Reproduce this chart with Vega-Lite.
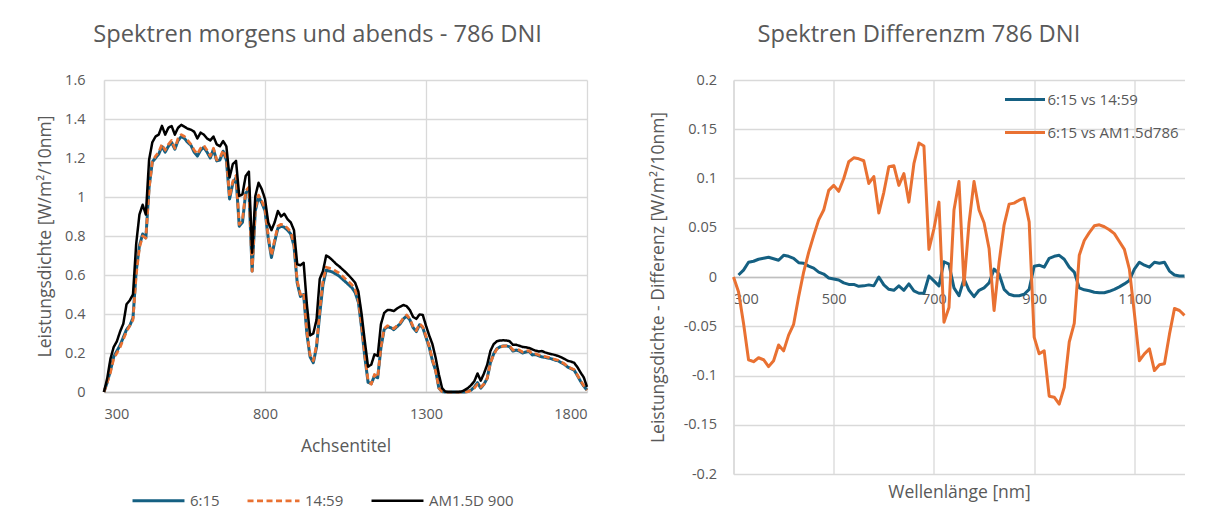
{
  "$schema": "https://vega.github.io/schema/vega-lite/v6.json",
  "padding": {"left": 36, "top": 23, "right": 0, "bottom": 0},
  "spacing": 60.5,
  "resolve": {"scale": {"color": "independent", "strokeDash": "independent", "strokeWidth": "independent"}, "legend": {"color": "independent", "strokeDash": "independent", "strokeWidth": "independent"}},
  "config": {
    "font": "Open Sans",
    "view": {"stroke": null},
    "axis": {"gridColor": "#d9d9d9", "gridWidth": 1.3, "domainColor": "#d9d9d9", "domainWidth": 1.3, "ticks": false, "labelColor": "#595959", "titleColor": "#595959", "labelFontSize": 14.5, "titleFontSize": 17.5, "titleFontWeight": "normal", "labelFont": "Open Sans", "titleFont": "Open Sans"},
    "title": {"fontSize": 23.7, "fontWeight": "normal", "color": "#595959", "frame": "bounds", "offset": 25, "font": "Open Sans"},
    "legend": {"labelColor": "#595959", "labelFontSize": 15, "labelFont": "Open Sans", "padding": 0}
  },
  "hconcat": [
    {
      "width": 483,
      "height": 312,
      "title": {"text": "Spektren morgens und abends - 786 DNI", "dx": 5},
      "data": {"values": [
        {"x":300,"a":0,"b":0,"c":0},
        {"x":310,"a":0.05,"b":0.05,"c":0.07},
        {"x":320,"a":0.11,"b":0.1,"c":0.17},
        {"x":330,"a":0.18,"b":0.17,"c":0.23},
        {"x":340,"a":0.21,"b":0.2,"c":0.26},
        {"x":350,"a":0.24,"b":0.23,"c":0.31},
        {"x":360,"a":0.28,"b":0.27,"c":0.35},
        {"x":370,"a":0.32,"b":0.31,"c":0.45},
        {"x":380,"a":0.34,"b":0.34,"c":0.47},
        {"x":390,"a":0.38,"b":0.37,"c":0.5},
        {"x":400,"a":0.62,"b":0.6,"c":0.76},
        {"x":410,"a":0.75,"b":0.74,"c":0.91},
        {"x":420,"a":0.81,"b":0.8,"c":0.96},
        {"x":430,"a":0.79,"b":0.79,"c":0.91},
        {"x":440,"a":1.05,"b":1.04,"c":1.19},
        {"x":450,"a":1.18,"b":1.18,"c":1.28},
        {"x":460,"a":1.2,"b":1.21,"c":1.31},
        {"x":470,"a":1.22,"b":1.23,"c":1.32},
        {"x":480,"a":1.26,"b":1.27,"c":1.365},
        {"x":490,"a":1.23,"b":1.24,"c":1.32},
        {"x":500,"a":1.26,"b":1.27,"c":1.355},
        {"x":510,"a":1.28,"b":1.29,"c":1.364},
        {"x":520,"a":1.245,"b":1.25,"c":1.32},
        {"x":530,"a":1.29,"b":1.3,"c":1.355},
        {"x":540,"a":1.31,"b":1.32,"c":1.37},
        {"x":550,"a":1.3,"b":1.31,"c":1.36},
        {"x":560,"a":1.28,"b":1.29,"c":1.35},
        {"x":570,"a":1.265,"b":1.27,"c":1.345},
        {"x":580,"a":1.23,"b":1.24,"c":1.335},
        {"x":590,"a":1.21,"b":1.22,"c":1.3},
        {"x":600,"a":1.24,"b":1.25,"c":1.33},
        {"x":610,"a":1.255,"b":1.265,"c":1.32},
        {"x":620,"a":1.23,"b":1.24,"c":1.3},
        {"x":630,"a":1.2,"b":1.21,"c":1.29},
        {"x":640,"a":1.245,"b":1.25,"c":1.31},
        {"x":650,"a":1.185,"b":1.19,"c":1.27},
        {"x":660,"a":1.19,"b":1.2,"c":1.26},
        {"x":670,"a":1.235,"b":1.24,"c":1.287},
        {"x":680,"a":1.19,"b":1.2,"c":1.26},
        {"x":690,"a":0.99,"b":1.0,"c":1.1},
        {"x":700,"a":1.07,"b":1.08,"c":1.168},
        {"x":710,"a":1.1,"b":1.11,"c":1.185},
        {"x":720,"a":0.85,"b":0.86,"c":1.005},
        {"x":730,"a":0.87,"b":0.88,"c":1.014},
        {"x":740,"a":1.02,"b":1.03,"c":1.108},
        {"x":750,"a":1.04,"b":1.05,"c":1.13},
        {"x":760,"a":0.62,"b":0.62,"c":0.714},
        {"x":770,"a":0.93,"b":0.94,"c":1.005},
        {"x":780,"a":1.0,"b":1.01,"c":1.073},
        {"x":790,"a":0.97,"b":0.98,"c":1.04},
        {"x":800,"a":0.93,"b":0.94,"c":0.99},
        {"x":810,"a":0.79,"b":0.8,"c":0.87},
        {"x":820,"a":0.69,"b":0.7,"c":0.83},
        {"x":830,"a":0.77,"b":0.78,"c":0.87},
        {"x":840,"a":0.84,"b":0.85,"c":0.928},
        {"x":850,"a":0.85,"b":0.86,"c":0.9},
        {"x":860,"a":0.845,"b":0.855,"c":0.914},
        {"x":870,"a":0.83,"b":0.84,"c":0.886},
        {"x":880,"a":0.81,"b":0.82,"c":0.87},
        {"x":890,"a":0.75,"b":0.76,"c":0.83},
        {"x":900,"a":0.56,"b":0.57,"c":0.655},
        {"x":910,"a":0.49,"b":0.5,"c":0.65},
        {"x":920,"a":0.5,"b":0.51,"c":0.663},
        {"x":930,"a":0.3,"b":0.31,"c":0.45},
        {"x":940,"a":0.18,"b":0.19,"c":0.29},
        {"x":950,"a":0.15,"b":0.16,"c":0.3},
        {"x":960,"a":0.23,"b":0.24,"c":0.37},
        {"x":970,"a":0.4,"b":0.42,"c":0.58},
        {"x":980,"a":0.55,"b":0.57,"c":0.62},
        {"x":990,"a":0.625,"b":0.64,"c":0.7},
        {"x":1000,"a":0.62,"b":0.635,"c":0.69},
        {"x":1010,"a":0.615,"b":0.63,"c":0.675},
        {"x":1020,"a":0.605,"b":0.62,"c":0.658},
        {"x":1030,"a":0.595,"b":0.61,"c":0.645},
        {"x":1040,"a":0.58,"b":0.595,"c":0.63},
        {"x":1050,"a":0.565,"b":0.58,"c":0.615},
        {"x":1060,"a":0.55,"b":0.565,"c":0.598},
        {"x":1070,"a":0.535,"b":0.55,"c":0.58},
        {"x":1080,"a":0.51,"b":0.525,"c":0.56},
        {"x":1090,"a":0.46,"b":0.47,"c":0.515},
        {"x":1100,"a":0.33,"b":0.34,"c":0.4},
        {"x":1110,"a":0.18,"b":0.19,"c":0.26},
        {"x":1120,"a":0.05,"b":0.06,"c":0.13},
        {"x":1130,"a":0.043,"b":0.04,"c":0.14},
        {"x":1140,"a":0.082,"b":0.09,"c":0.193},
        {"x":1150,"a":0.073,"b":0.075,"c":0.185},
        {"x":1160,"a":0.227,"b":0.23,"c":0.347},
        {"x":1170,"a":0.32,"b":0.325,"c":0.405},
        {"x":1180,"a":0.335,"b":0.34,"c":0.42},
        {"x":1190,"a":0.33,"b":0.335,"c":0.42},
        {"x":1200,"a":0.32,"b":0.325,"c":0.415},
        {"x":1210,"a":0.335,"b":0.34,"c":0.428},
        {"x":1220,"a":0.35,"b":0.355,"c":0.438},
        {"x":1230,"a":0.375,"b":0.38,"c":0.446},
        {"x":1240,"a":0.39,"b":0.395,"c":0.44},
        {"x":1250,"a":0.37,"b":0.375,"c":0.42},
        {"x":1260,"a":0.33,"b":0.335,"c":0.385},
        {"x":1270,"a":0.31,"b":0.315,"c":0.375},
        {"x":1280,"a":0.345,"b":0.35,"c":0.398},
        {"x":1290,"a":0.33,"b":0.335,"c":0.395},
        {"x":1300,"a":0.28,"b":0.285,"c":0.34},
        {"x":1310,"a":0.23,"b":0.235,"c":0.29},
        {"x":1320,"a":0.16,"b":0.165,"c":0.245},
        {"x":1330,"a":0.11,"b":0.11,"c":0.175},
        {"x":1340,"a":0.02,"b":0.02,"c":0.09},
        {"x":1350,"a":0.002,"b":0.002,"c":0.02},
        {"x":1360,"a":0,"b":0,"c":0.002},
        {"x":1370,"a":0,"b":0,"c":0},
        {"x":1380,"a":0,"b":0,"c":0},
        {"x":1390,"a":0,"b":0,"c":0},
        {"x":1400,"a":0,"b":0,"c":0},
        {"x":1410,"a":0,"b":0,"c":0.002},
        {"x":1420,"a":0,"b":0,"c":0.01},
        {"x":1430,"a":0.002,"b":0.002,"c":0.02},
        {"x":1440,"a":0.01,"b":0.008,"c":0.035},
        {"x":1450,"a":0.025,"b":0.02,"c":0.055},
        {"x":1460,"a":0.048,"b":0.04,"c":0.095},
        {"x":1470,"a":0.02,"b":0.025,"c":0.058},
        {"x":1480,"a":0.04,"b":0.04,"c":0.095},
        {"x":1490,"a":0.07,"b":0.07,"c":0.14},
        {"x":1500,"a":0.15,"b":0.15,"c":0.21},
        {"x":1510,"a":0.195,"b":0.19,"c":0.245},
        {"x":1520,"a":0.222,"b":0.22,"c":0.26},
        {"x":1530,"a":0.232,"b":0.23,"c":0.264},
        {"x":1540,"a":0.236,"b":0.235,"c":0.265},
        {"x":1550,"a":0.236,"b":0.237,"c":0.264},
        {"x":1560,"a":0.232,"b":0.235,"c":0.26},
        {"x":1570,"a":0.21,"b":0.215,"c":0.242},
        {"x":1580,"a":0.215,"b":0.22,"c":0.242},
        {"x":1590,"a":0.21,"b":0.215,"c":0.237},
        {"x":1600,"a":0.2,"b":0.205,"c":0.231},
        {"x":1610,"a":0.205,"b":0.21,"c":0.229},
        {"x":1620,"a":0.208,"b":0.212,"c":0.226},
        {"x":1630,"a":0.19,"b":0.195,"c":0.219},
        {"x":1640,"a":0.192,"b":0.196,"c":0.212},
        {"x":1650,"a":0.186,"b":0.19,"c":0.208},
        {"x":1660,"a":0.18,"b":0.184,"c":0.21},
        {"x":1670,"a":0.178,"b":0.182,"c":0.203},
        {"x":1680,"a":0.174,"b":0.178,"c":0.198},
        {"x":1690,"a":0.17,"b":0.173,"c":0.194},
        {"x":1700,"a":0.164,"b":0.167,"c":0.19},
        {"x":1710,"a":0.16,"b":0.163,"c":0.185},
        {"x":1720,"a":0.15,"b":0.153,"c":0.178},
        {"x":1730,"a":0.142,"b":0.145,"c":0.17},
        {"x":1740,"a":0.128,"b":0.13,"c":0.16},
        {"x":1750,"a":0.12,"b":0.122,"c":0.156},
        {"x":1760,"a":0.112,"b":0.115,"c":0.15},
        {"x":1770,"a":0.085,"b":0.087,"c":0.128},
        {"x":1780,"a":0.055,"b":0.058,"c":0.1},
        {"x":1790,"a":0.03,"b":0.032,"c":0.075},
        {"x":1800,"a":0.01,"b":0.01,"c":0.026}
      ]},
      "transform": [{"fold": ["a", "b", "c"], "as": ["series", "val"]}],
      "mark": {"type": "line", "strokeJoin": "round"},
      "encoding": {
        "x": {"field": "x", "type": "quantitative", "scale": {"domain": [300, 1800], "nice": false, "zero": false},
              "axis": {"values": [300, 800, 1300, 1800], "format": "d", "title": "Achsentitel", "labelPadding": 15, "titlePadding": 17, "domainColor": "#bfbfbf"}},
        "y": {"field": "val", "type": "quantitative", "scale": {"domain": [0, 1.6], "nice": false},
              "axis": {"values": [0, 0.2, 0.4, 0.6, 0.8, 1, 1.2, 1.4, 1.6], "labelExpr": "toString(datum.value)", "title": "Leistungsdichte [W/m²/10nm]", "labelPadding": 19, "titlePadding": 10}},
        "color": {"field": "series", "type": "nominal", "scale": {"domain": ["a", "b", "c"], "range": ["#156082", "#E97132", "#000000"]},
                  "legend": {"orient": "none", "legendX": 27, "legendY": 393, "direction": "horizontal", "title": null, "symbolType": "stroke", "symbolSize": 2700, "columnPadding": 22, "labelOffset": 4,
                             "labelExpr": "datum.label == 'a' ? '6:15' : datum.label == 'b' ? '14:59' : 'AM1.5D 900'"}},
        "strokeDash": {"field": "series", "type": "nominal", "scale": {"domain": ["a", "b", "c"], "range": [[1, 0], [6, 3.5], [1, 0]]}, "legend": null},
        "strokeWidth": {"field": "series", "type": "nominal", "scale": {"domain": ["a", "b", "c"], "range": [3, 2.5, 1.75]}, "legend": null}
      }
    },
    {
      "width": 451,
      "height": 394,
      "title": {"text": "Spektren Differenzm 786 DNI", "dx": 1},
      "data": {"values": [
        {"x":300,"p":null,"q":0},
        {"x":310,"p":0.002,"q":-0.015},
        {"x":320,"p":0.007,"q":-0.047},
        {"x":330,"p":0.015,"q":-0.084},
        {"x":340,"p":0.016,"q":-0.086},
        {"x":350,"p":0.018,"q":-0.082},
        {"x":360,"p":0.019,"q":-0.084},
        {"x":370,"p":0.02,"q":-0.091},
        {"x":380,"p":0.0185,"q":-0.085},
        {"x":390,"p":0.017,"q":-0.069},
        {"x":400,"p":0.022,"q":-0.075},
        {"x":410,"p":0.021,"q":-0.059},
        {"x":420,"p":0.019,"q":-0.048},
        {"x":430,"p":0.0145,"q":-0.02},
        {"x":440,"p":0.014,"q":0.005},
        {"x":450,"p":0.011,"q":0.025},
        {"x":460,"p":0.009,"q":0.042},
        {"x":470,"p":0.005,"q":0.058},
        {"x":480,"p":0.003,"q":0.068},
        {"x":490,"p":-0.001,"q":0.088},
        {"x":500,"p":-0.002,"q":0.093},
        {"x":510,"p":-0.003,"q":0.087},
        {"x":520,"p":-0.006,"q":0.1},
        {"x":530,"p":-0.0075,"q":0.117},
        {"x":540,"p":-0.0075,"q":0.121},
        {"x":550,"p":-0.0095,"q":0.12},
        {"x":560,"p":-0.009,"q":0.118},
        {"x":570,"p":-0.008,"q":0.095},
        {"x":580,"p":-0.009,"q":0.102},
        {"x":590,"p":0.0,"q":0.065},
        {"x":600,"p":-0.008,"q":0.086},
        {"x":610,"p":-0.0125,"q":0.112},
        {"x":620,"p":-0.0135,"q":0.113},
        {"x":630,"p":-0.009,"q":0.093},
        {"x":640,"p":-0.0135,"q":0.105},
        {"x":650,"p":-0.007,"q":0.076},
        {"x":660,"p":-0.014,"q":0.115},
        {"x":670,"p":-0.0165,"q":0.136},
        {"x":680,"p":-0.0165,"q":0.133},
        {"x":690,"p":0.001,"q":0.028},
        {"x":700,"p":-0.004,"q":0.049},
        {"x":710,"p":-0.009,"q":0.076},
        {"x":720,"p":0.0155,"q":-0.046},
        {"x":730,"p":0.013,"q":-0.031},
        {"x":740,"p":-0.011,"q":0.068},
        {"x":750,"p":-0.019,"q":0.097},
        {"x":760,"p":-0.002,"q":-0.008},
        {"x":770,"p":-0.0135,"q":0.055},
        {"x":780,"p":-0.02,"q":0.097},
        {"x":790,"p":-0.0135,"q":0.068},
        {"x":800,"p":-0.011,"q":0.055},
        {"x":810,"p":-0.006,"q":0.029},
        {"x":820,"p":0.008,"q":-0.034},
        {"x":830,"p":0.003,"q":0.015},
        {"x":840,"p":-0.0125,"q":0.053},
        {"x":850,"p":-0.0175,"q":0.074},
        {"x":860,"p":-0.019,"q":0.075},
        {"x":870,"p":-0.019,"q":0.078},
        {"x":880,"p":-0.0175,"q":0.08},
        {"x":890,"p":-0.0125,"q":0.056},
        {"x":900,"p":0.011,"q":-0.061},
        {"x":910,"p":0.012,"q":-0.078},
        {"x":920,"p":0.01,"q":-0.075},
        {"x":930,"p":0.019,"q":-0.121},
        {"x":940,"p":0.021,"q":-0.122},
        {"x":950,"p":0.022,"q":-0.129},
        {"x":960,"p":0.018,"q":-0.112},
        {"x":970,"p":0.01,"q":-0.066},
        {"x":980,"p":0.005,"q":-0.047},
        {"x":990,"p":-0.011,"q":0.022},
        {"x":1000,"p":-0.013,"q":0.037},
        {"x":1010,"p":-0.014,"q":0.045},
        {"x":1020,"p":-0.0155,"q":0.052},
        {"x":1030,"p":-0.016,"q":0.053},
        {"x":1040,"p":-0.016,"q":0.051},
        {"x":1050,"p":-0.0145,"q":0.048},
        {"x":1060,"p":-0.0125,"q":0.044},
        {"x":1070,"p":-0.01,"q":0.036},
        {"x":1080,"p":-0.007,"q":0.028},
        {"x":1090,"p":-0.0035,"q":0.008},
        {"x":1100,"p":0.008,"q":-0.037},
        {"x":1110,"p":0.015,"q":-0.085},
        {"x":1120,"p":0.012,"q":-0.078},
        {"x":1130,"p":0.01,"q":-0.073},
        {"x":1140,"p":0.015,"q":-0.095},
        {"x":1150,"p":0.014,"q":-0.089},
        {"x":1160,"p":0.015,"q":-0.088},
        {"x":1170,"p":0.006,"q":-0.058},
        {"x":1180,"p":0.002,"q":-0.032},
        {"x":1190,"p":0.001,"q":-0.034},
        {"x":1200,"p":0.001,"q":-0.039}
      ]},
      "transform": [{"fold": ["p", "q"], "as": ["series", "val"]}],
      "mark": {"type": "line", "strokeWidth": 3, "strokeJoin": "round"},
      "encoding": {
        "x": {"field": "x", "type": "quantitative", "scale": {"domain": [300, 1200], "nice": false, "zero": false},
              "axis": {"values": [300, 500, 700, 900, 1100], "format": "d", "offset": -197, "title": "Wellenlänge [nm]", "titleY": 206, "titleBaseline": "top", "labelPadding": 15, "domainColor": "#bfbfbf"}},
        "y": {"field": "val", "type": "quantitative", "scale": {"domain": [-0.2, 0.2], "nice": false},
              "axis": {"values": [-0.2, -0.15, -0.1, -0.05, 0, 0.05, 0.1, 0.15, 0.2], "labelExpr": "toString(datum.value)", "title": "Leistungsdichte - Differenz  [W/m²/10nm]", "labelPadding": 17, "titlePadding": 15.5}},
        "color": {"field": "series", "type": "nominal", "scale": {"domain": ["p", "q"], "range": ["#156082", "#E97132"]},
                  "legend": {"orient": "none", "legendX": 280, "legendY": 8, "direction": "vertical", "title": null, "symbolType": "M-2,0H2", "symbolSize": 400, "symbolStrokeWidth": 3, "rowPadding": 13, "labelOffset": 11,
                             "labelExpr": "datum.label == 'p' ? '6:15 vs 14:59' : '6:15 vs AM1.5d786'"}}
      }
    }
  ]
}
